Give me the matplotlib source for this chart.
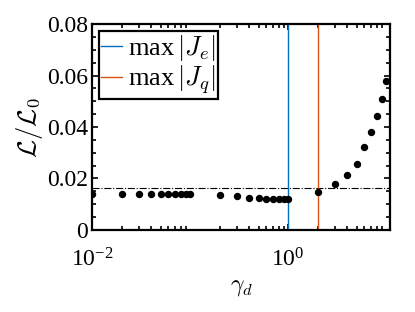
import numpy as np
import matplotlib
matplotlib.use('Agg')
import matplotlib.pyplot as plt
from matplotlib.ticker import FixedLocator, MultipleLocator

plt.rcParams['font.family'] = ['Liberation Serif', 'DejaVu Serif']
plt.rcParams['mathtext.fontset'] = 'cm'

# data
gamma_d = [0.01, 0.02, 0.03, 0.04, 0.05, 0.06, 0.07, 0.08, 0.09, 0.1,
           0.2, 0.3, 0.4, 0.5, 0.6, 0.7, 0.8, 0.9, 1.0,
           2, 3, 4, 5, 6, 7, 8, 9, 10]
L_ratio = [0.0141, 0.0140, 0.0139, 0.0139, 0.0138, 0.0138, 0.0138, 0.0138, 0.0138, 0.0138,
           0.0134, 0.0131, 0.0126, 0.0123, 0.0121, 0.0120, 0.0120, 0.0120, 0.0121,
           0.0149, 0.0179, 0.0214, 0.0255, 0.0321, 0.0379, 0.0443, 0.0509, 0.0580]
ref_level = 0.0162
max_Je = 1.0
max_Jq = 2.0

fig = plt.figure(figsize=(4.15, 3.12), dpi=100)
ax = fig.add_axes([0.222, 0.263, 0.718, 0.66])

ax.axhline(ref_level, color='black', linestyle='-.', linewidth=0.8)
ax.axvline(max_Je, color='#0072BD', linewidth=1.0, label=r'$\mathregular{max}\,|J_e|$')
ax.axvline(max_Jq, color='#D95319', linewidth=1.0, label=r'$\mathregular{max}\,|J_q|$')
ax.plot(gamma_d, L_ratio, 'o', color='black', markersize=4.3)

ax.set_xscale('log')
ax.set_xlim(0.01, 11)
ax.set_ylim(0, 0.08)
ax.xaxis.set_major_locator(FixedLocator([1e-2, 1e0]))
ax.set_xticklabels([r'$\mathregular{10^{-2}}$', r'$\mathregular{10^{0}}$'])
ax.xaxis.set_minor_locator(matplotlib.ticker.LogLocator(base=10, subs=np.arange(2, 10), numticks=20))
ax.xaxis.set_minor_formatter(matplotlib.ticker.NullFormatter())
ax.set_yticks([0, 0.02, 0.04, 0.06, 0.08])
ax.set_yticklabels(['0', '0.02', '0.04', '0.06', '0.08'])
ax.yaxis.set_minor_locator(MultipleLocator(0.005))

ax.tick_params(which='both', direction='in', top=True, right=True, labelsize=17, width=1.2)
ax.tick_params(which='major', length=4)
ax.tick_params(which='minor', length=3)
ax.tick_params(axis='x', pad=13)
ax.tick_params(axis='y', pad=3)
for s in ax.spines.values():
    s.set_linewidth(1.6)

ax.set_xlabel(r'$\gamma_d$', fontsize=17, labelpad=4)
ax.set_ylabel(r'$\mathcal{L}/\mathcal{L}_0$', fontsize=19, labelpad=1)

leg = ax.legend(loc='upper left', fontsize=19, handlelength=0.8, handletextpad=0.2,
                borderpad=0.1, labelspacing=0.0, fancybox=False, framealpha=1,
                borderaxespad=0.25)
leg.get_frame().set_edgecolor('black')
leg.get_frame().set_linewidth(1.6)

fig.savefig('out.png', dpi=100)
